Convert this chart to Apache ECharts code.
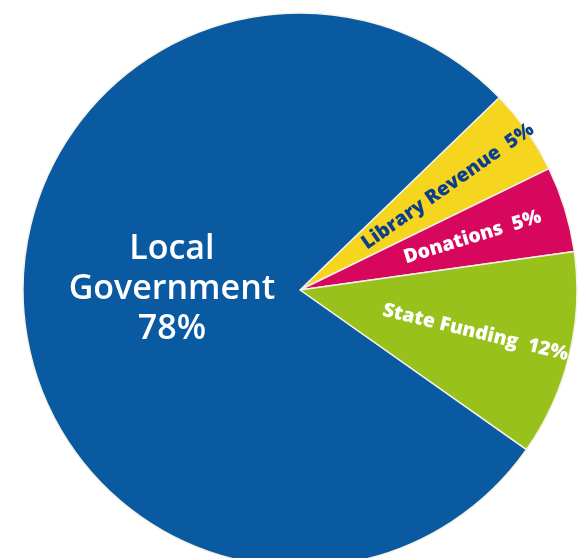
<!DOCTYPE html>
<html>
<head>
<meta charset="utf-8">
<script src="https://cdn.jsdelivr.net/npm/echarts@6/dist/echarts.min.js"></script>
<style>
html,body{margin:0;padding:0;background:#fff;}
#chart{width:582px;height:558px;}
</style>
</head>
<body>
<div id="chart"></div>
<script>
const categories = ['Library Revenue', 'Donations', 'State Funding', 'Local Government'];
const values = [5, 5, 12, 78];
const percentLabels = ['5%', '5%', '12%', '78%'];
const colors = ['#f5d51e', '#d7075e', '#98c11c', '#0a5aa2'];
const labelColors = ['#0c3e90', '#ffffff', '#ffffff', '#ffffff'];

const chart = echarts.init(document.getElementById('chart'));
const center = [300, 290];
const R = 277;

const smallLabel = (i) => ({
  show: true,
  position: 'inside',
  rotate: 'radial',
  formatter: categories[i] + '  ' + percentLabels[i],
  color: labelColors[i],
  fontFamily: '"Open Sans", "DejaVu Sans Condensed", sans-serif',
  fontWeight: 800,
  fontSize: 19.5
});

option = {
  backgroundColor: '#ffffff',
  animation: false,
  series: [
    {
      type: 'pie',
      center: center,
      radius: [0, R],
      startAngle: 44,
      clockwise: true,
      silent: true,
      itemStyle: { borderColor: '#f4f2e6', borderWidth: 1.5 },
      label: { show: false },
      labelLine: { show: false },
      data: categories.map((c, i) => ({
        name: c,
        value: values[i],
        itemStyle: { color: colors[i] },
        label: i === 3 ? {
          show: true,
          position: 'inside',
          formatter: '{a|Local}\n{a|Government}\n{a|' + percentLabels[i] + '}\n{s| }',
          align: 'center',
          padding: [0, 0, 0, 26],
          rich: {
            a: {
              color: '#ffffff',
              fontFamily: '"Open Sans", sans-serif',
              fontWeight: 600,
              fontSize: 34,
              lineHeight: 40,
              align: 'center'
            },
            s: { fontSize: 10, lineHeight: 24 }
          }
        } : { show: false }
      }))
    },
    {
      type: 'pie',
      center: center,
      radius: [100, 255],
      startAngle: 44,
      clockwise: true,
      silent: true,
      itemStyle: { color: 'rgba(0,0,0,0)', borderWidth: 0 },
      labelLine: { show: false },
      data: categories.map((c, i) => ({
        name: c,
        value: values[i],
        label: i < 3 ? smallLabel(i) : { show: false }
      }))
    }
  ]
};
chart.setOption(option);
</script>
</body>
</html>
